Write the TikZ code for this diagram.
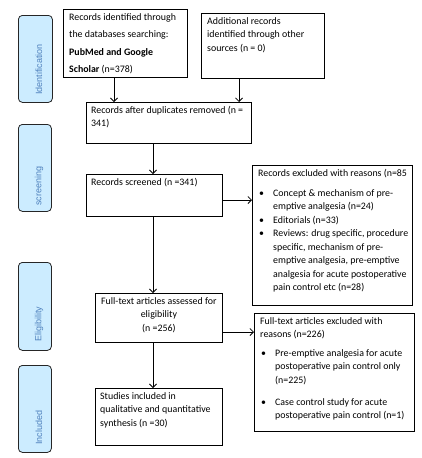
\documentclass[tikz,border=0pt]{standalone}
\usepackage{fontspec}
\setmainfont{Carlito}
\newfontfamily\labelfont{Liberation Sans}
\usetikzlibrary{arrows.meta}
\definecolor{sidefill}{RGB}{204,236,255}
\definecolor{sidetext}{RGB}{79,129,189}
\newcommand{\bl}{\makebox[15pt][l]{\hspace{1pt}•}}
\newcommand{\ind}{\hspace*{15pt}}
\begin{document}
\begin{tikzpicture}[x=1pt,y=-1pt,
  box/.style={draw, line width=0.8pt, anchor=north west, inner sep=0},
  txt/.style={anchor=north west, inner sep=0, align=left, font=\fontsize{9.9}{13.5}\selectfont},
  sbox/.style={draw=black!85, fill=sidefill, rounded corners=4pt, line width=0.8pt, anchor=north west, inner sep=0},
  slabel/.style={rotate=90, anchor=west, inner sep=0, text=sidetext, font=\labelfont\fontsize{9}{11}\selectfont},
  arr/.style={line width=0.8pt, -{Straight Barb[length=3.5pt,width=7pt]}}]
\useasboundingbox (0,0) rectangle (422,458);

% side labels
\node[sbox, minimum width=34pt, minimum height=87pt] (s1) at (18,15) {};
\node[slabel] (l1) at (39,95) {Identification};
\node[sbox, minimum width=33pt, minimum height=87pt] (s2) at (18,124) {};
\node[slabel] (l2) at (39,206) {screening};
\node[sbox, minimum width=33pt, minimum height=88pt] (s3) at (18,262) {};
\node[slabel] (l3) at (39,342) {Eligibility};
\node[sbox, minimum width=33pt, minimum height=87pt] (s4) at (18,365) {};
\node[slabel] (l4) at (39,445) {Included};

% boxes
\node[box, minimum width=124pt, minimum height=68pt] (b1) at (63,9) {};
\node[txt, font=\fontsize{9.9}{17.5}\selectfont] (t1) at ([shift={(6pt,-4pt)}]b1.north west)
  {Records identified through\\the databases searching:\\\textbf{PubMed and Google}\\\textbf{Scholar} (n=378)};

\node[box, minimum width=123pt, minimum height=65pt] (b2) at (201,13) {};
\node[txt] (t2) at ([shift={(6pt,-4pt)}]b2.north west)
  {Additional records\\identified through other\\sources (n = 0)};

\node[box, minimum width=165pt, minimum height=41pt] (b3) at (86,102) {};
\node[txt] (t3) at ([shift={(5pt,-4pt)}]b3.north west)
  {Records after duplicates removed (n =\\341)};

\node[box, minimum width=136pt, minimum height=42pt] (b4) at (86,174) {};
\node[txt] (t4) at ([shift={(5pt,-4pt)}]b4.north west)
  {Records screened (n =341)};

\node[box, minimum width=160pt, minimum height=140pt] (b5) at (252,165) {};
\node[txt] (t5) at ([shift={(6pt,-4pt)}]b5.north west)
  {Records excluded with reasons (n=85\\[6.5pt]
   \bl Concept \& mechanism of pre-\\\ind emptive analgesia (n=24)\\
   \bl Editorials (n=33)\\
   \bl Reviews: drug specific, procedure\\\ind specific, mechanism of pre-\\\ind emptive analgesia, pre-emptive\\\ind analgesia for acute postoperative\\\ind pain control etc (n=28)};

\node[box, minimum width=127pt, minimum height=49pt] (b6) at (95,293) {};
\node[txt, anchor=north, align=center] (t6) at ([shift={(0pt,-4pt)}]b6.north)
  {Full-text articles assessed for\\eligibility\\(n =256)};

\node[box, minimum width=160pt, minimum height=118pt] (b7) at (254,313) {};
\node[txt] (t7) at ([shift={(6pt,-4pt)}]b7.north west)
  {Full-text articles excluded with\\reasons (n=226)\\[5pt]
   \bl Pre-emptive analgesia for acute\\\ind postoperative pain control only\\\ind (n=225)\\[8.5pt]
   \bl Case control study for acute\\\ind postoperative pain control (n=1)};

\node[box, minimum width=127pt, minimum height=57pt] (b8) at (95,388) {};
\node[txt] (t8) at ([shift={(5pt,-4pt)}]b8.north west)
  {Studies included in\\qualitative and quantitative\\synthesis (n =30)};

% connectors
\coordinate (c1) at (114,0);
\coordinate (c2) at (239,0);
\coordinate (c3) at (153,0);
\coordinate (r1) at (0,200);
\coordinate (r2) at (0,332);
\draw[arr] (b1.south -| c1) -- (b3.north -| c1);
\draw[arr] (b2.south -| c2) -- (b3.north -| c2);
\draw[arr] (b3.south -| c3) -- (b4.north -| c3);
\draw[arr] (b4.south -| c3) -- (b6.north -| c3);
\draw[arr] (b6.south -| c3) -- (b8.north -| c3);
\draw[arr] (b4.east |- r1) -- (b5.west |- r1);
\draw[arr] (b6.east |- r2) -- (b7.west |- r2);
\end{tikzpicture}
\end{document}
